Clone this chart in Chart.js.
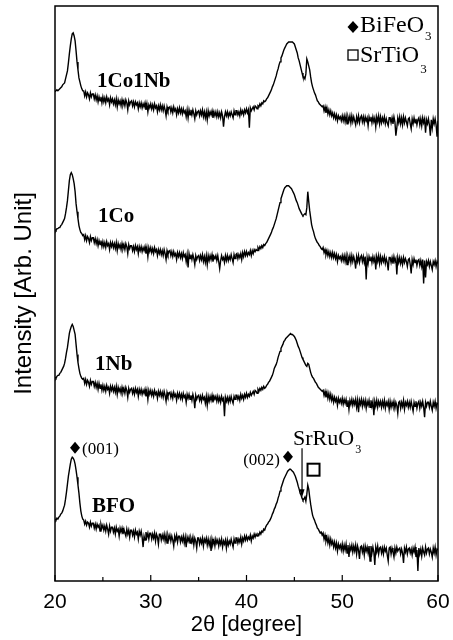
<!DOCTYPE html>
<html>
<head>
<meta charset="utf-8">
<script src="https://cdn.jsdelivr.net/npm/chart.js@4.4.0/dist/chart.umd.min.js"></script>
<style>
  html, body { margin: 0; padding: 0; background: #fff; }
  #wrap { width: 453px; height: 640px; }
</style>
</head>
<body>
<div id="wrap"><canvas id="xrd" width="453" height="640"></canvas></div>
<script>
// 2theta scan, 20-60 deg in 0.1 deg steps
const twoTheta = Array.from({ length: 401 }, (_, i) => Math.round((20 + i * 0.1) * 10) / 10);

const samples = ['1Co1Nb', '1Co', '1Nb', 'BFO'];
const shifts = [430, 290, 145, 0];

const co1nb1 = [
  60,60,62,61,62,63,64,65,67,68,
  69,73,77,81,89,98,106,113,118,119,
  116,111,101,90,82,74,70,66,63,61,
  61,56,60,55,59,57,53,59,55,58,
  58,53,57,52,56,50,55,51,55,49,
  55,50,54,49,55,51,53,47,54,50,
  53,48,52,47,53,45,52,48,51,46,
  52,47,51,46,52,49,42,51,47,50,
  51,46,50,45,50,47,49,43,49,45,
  49,44,48,45,49,42,48,40,47,44,
  48,43,47,42,48,44,46,40,46,42,
  47,42,46,41,46,42,36,45,41,44,
  45,40,44,39,45,41,43,37,43,39,
  44,39,43,38,43,39,41,35,42,34,
  42,37,42,37,42,38,33,41,37,40,
  41,36,41,37,42,35,40,34,40,32,
  41,36,40,37,41,34,40,36,40,35,
  40,35,39,34,40,36,25,35,40,36,
  40,35,39,36,40,37,34,41,37,41,
  41,37,40,36,42,38,41,37,42,39,
  43,39,42,24,44,41,43,45,42,46,
  45,43,46,45,48,46,49,48,51,50,
  51,53,54,56,58,60,62,65,67,70,
  73,76,80,83,87,90,94,96,99,102,
  104,106,108,109,110,110,110,110,110,109,
  108,105,102,99,94,91,87,83,79,75,
  75,73,78,93,90,86,82,75,69,65,
  62,59,57,54,51,50,48,47,46,45,
  46,41,45,39,44,38,42,37,41,36,
  39,34,38,33,37,31,36,33,35,31,
  36,31,36,30,36,28,35,31,36,29,
  36,30,35,31,27,35,30,36,29,34,
  36,30,35,29,35,31,34,26,35,31,
  35,29,35,30,34,25,35,30,36,28,
  35,29,34,30,35,28,33,29,26,34,
  34,29,34,28,35,30,16,24,34,29,
  35,28,34,27,35,29,34,30,26,33,
  34,28,23,33,28,34,29,33,27,32,
  34,27,33,26,34,29,33,19,32,28,
  33,27,16,32,24,33,28,33,27,15,
  31
];

const co1 = [
  62,61,63,63,64,64,66,67,69,71,
  73,78,84,91,101,111,117,119,117,113,
  108,100,88,80,73,66,62,59,58,56,
  57,52,56,51,55,53,49,55,51,54,
  54,49,53,48,52,46,51,47,51,45,
  50,45,49,44,50,46,48,42,49,45,
  49,44,48,43,49,41,48,44,47,42,
  48,43,47,42,48,45,38,47,43,46,
  46,41,45,40,46,42,45,38,45,41,
  45,40,44,41,45,38,44,35,44,40,
  44,39,43,38,44,40,42,36,42,38,
  42,37,41,36,42,38,32,41,37,40,
  41,36,40,35,40,36,38,32,39,35,
  39,34,38,33,39,35,37,30,37,24,
  38,33,37,32,37,33,27,36,32,35,
  36,31,36,32,37,30,35,29,36,27,
  36,31,36,32,37,30,35,33,36,31,
  36,30,23,31,36,32,34,29,36,31,
  36,31,35,32,37,33,29,37,33,37,
  38,33,37,34,38,32,39,35,40,36,
  40,36,39,37,41,36,41,38,42,40,
  42,41,44,42,45,43,46,44,47,46,
  48,49,51,53,55,57,59,62,64,67,
  70,73,77,81,85,89,93,96,99,102,
  104,105,106,106,106,105,104,103,101,99,
  97,94,91,89,86,83,81,79,77,76,
  77,78,77,84,100,90,81,74,67,63,
  60,56,53,51,49,48,46,45,43,42,
  44,39,42,37,41,36,40,35,39,34,
  39,34,38,33,37,30,36,33,35,31,
  36,31,36,30,36,27,35,31,36,29,
  36,30,35,31,23,35,30,36,29,34,
  36,30,35,29,35,12,34,28,35,31,
  35,29,35,30,34,22,35,30,36,28,
  35,29,34,30,35,28,33,29,21,34,
  34,29,34,28,35,30,33,17,34,29,
  34,28,33,27,34,29,33,30,25,32,
  33,27,18,32,27,33,29,32,26,31,
  32,26,31,25,32,8,31,14,30,27,
  31,25,30,26,22,30,27,31,25,30,
  28
];

const nb1 = [
  59,58,60,61,61,63,64,66,68,70,
  73,78,84,89,96,103,107,110,112,110,
  106,102,92,82,74,68,63,60,58,57,
  58,53,57,52,56,54,50,56,52,55,
  55,50,54,49,53,47,53,48,52,46,
  51,46,50,45,51,47,49,43,50,46,
  50,45,49,44,50,42,49,45,48,43,
  49,44,48,43,49,46,39,48,44,47,
  48,43,47,42,48,44,47,40,47,43,
  47,42,46,43,47,40,46,37,46,42,
  46,41,45,40,46,42,44,38,45,41,
  45,40,44,39,45,41,35,44,40,43,
  44,39,43,38,44,40,42,36,43,39,
  43,38,42,37,43,39,41,34,42,38,
  42,37,41,36,42,38,28,41,37,40,
  41,36,40,35,41,37,39,33,40,31,
  40,35,40,36,41,34,40,37,40,35,
  40,35,39,34,40,36,38,20,39,35,
  39,34,39,35,40,36,33,40,37,41,
  41,37,40,36,42,38,41,37,42,39,
  43,39,42,40,44,41,43,45,42,46,
  45,43,47,45,48,46,49,47,50,48,
  49,51,52,54,55,57,59,61,64,68,
  70,72,75,79,82,85,88,90,92,95,
  96,98,99,100,101,102,103,102,102,101,
  100,98,96,93,90,88,85,82,79,77,
  75,73,71,70,73,72,68,64,61,59,
  58,56,54,53,51,49,48,47,46,45,
  46,41,45,39,44,38,43,37,42,36,
  40,34,39,35,38,31,38,34,37,33,
  38,32,37,33,37,30,36,27,36,32,
  37,31,36,32,37,29,36,24,36,32,
  37,30,36,31,36,28,35,31,36,29,
  36,30,35,21,35,30,36,29,35,31,
  35,29,35,30,36,28,34,31,35,27,
  35,29,34,30,35,28,34,31,23,34,
  35,28,34,30,36,27,34,31,35,29,
  34,29,35,30,25,34,30,35,28,33,
  35,28,34,30,35,29,19,34,30,34,
  34,29,35,30,26,34,30,35,28,33,
  32
];

const bfo = [
  62,61,63,62,64,65,67,68,70,73,
  76,82,89,97,105,111,117,122,124,123,
  121,117,111,104,96,88,78,70,65,62,
  61,57,60,56,59,58,54,59,55,58,
  58,53,57,52,57,54,56,50,57,53,
  56,51,55,50,56,52,47,55,50,54,
  54,49,53,47,54,50,52,45,53,49,
  53,47,52,48,45,52,47,51,44,51,
  51,46,50,44,51,47,49,42,50,46,
  50,44,34,45,41,49,44,48,42,48,
  48,42,47,43,48,40,47,44,37,47,
  47,41,46,42,47,40,46,38,46,42,
  46,40,45,41,35,45,41,46,39,45,
  45,39,44,40,45,38,44,34,44,40,
  44,38,43,39,44,36,43,40,33,43,
  43,37,42,38,43,35,42,39,43,36,
  42,36,41,30,42,37,41,35,42,38,
  41,35,41,37,42,34,40,37,41,33,
  41,36,40,37,42,38,34,42,38,43,
  43,38,42,39,44,37,43,40,45,41,
  45,41,44,42,46,40,45,43,47,44,
  47,45,47,46,49,47,50,49,52,51,
  54,56,57,59,60,62,64,67,69,72,
  74,77,79,83,86,90,93,96,99,102,
  104,106,108,110,111,112,112,111,110,109,
  107,105,102,99,95,92,88,86,83,81,
  82,84,80,87,96,92,84,77,71,66,
  63,61,58,56,53,52,50,48,49,46,
  48,42,46,40,44,38,43,36,42,37,
  40,34,39,33,38,30,37,33,36,31,
  37,30,36,31,37,28,36,24,35,31,
  36,29,35,30,36,27,35,31,22,34,
  35,29,34,26,35,30,34,28,35,20,
  35,28,34,29,16,34,29,35,27,33,
  34,28,33,27,34,30,33,26,20,33,
  34,27,33,29,24,33,28,34,30,32,
  33,27,32,28,18,33,29,34,27,32,
  33,28,32,26,33,29,34,24,31,10,
  33,27,32,25,33,29,26,34,28,32,
  33,27,32,29,24,33,28,34,26,32,
  31
];

const series = [co1nb1, co1, nb1, bfo];
const xTicks = [20, 30, 40, 50, 60];

const serif = '"Liberation Serif", "Times New Roman", serif';
const sans = '"Liberation Sans", Arial, sans-serif';

function diamond(ctx, cx, cy, w, h) {
  ctx.beginPath();
  ctx.moveTo(cx, cy - h / 2);
  ctx.lineTo(cx + w / 2, cy);
  ctx.lineTo(cx, cy + h / 2);
  ctx.lineTo(cx - w / 2, cy);
  ctx.closePath();
  ctx.fill();
}

function chem(ctx, text, sub, x, y, size, drop) {
  ctx.font = size + 'px ' + serif;
  ctx.textAlign = 'left';
  ctx.textBaseline = 'alphabetic';
  ctx.fillText(text, x, y);
  const w = ctx.measureText(text).width;
  ctx.font = Math.round(size * 0.55) + 'px ' + serif;
  ctx.fillText(sub, x + w + 1, y + drop);
}

const overlay = {
  id: 'overlay',
  afterDraw(chart) {
    const { ctx, chartArea: a, scales: { x, y } } = chart;
    const px = v => x.getPixelForValue(v);
    const py = v => y.getPixelForValue(v);
    ctx.save();
    ctx.strokeStyle = '#000';
    ctx.fillStyle = '#000';

    // frame + inward ticks
    ctx.lineWidth = 1.5;
    ctx.strokeRect(a.left, a.top, a.right - a.left, a.bottom - a.top);
    ctx.lineWidth = 1.2;
    for (let t = 20; t <= 60; t += 5) {
      const len = t % 10 === 0 ? 6 : 4;
      ctx.beginPath();
      ctx.moveTo(px(t), a.bottom);
      ctx.lineTo(px(t), a.bottom - len);
      ctx.stroke();
    }

    // sample names
    const namePos = [[24.39, 500], [24.49, 365], [24.18, 217], [23.86, 75]];
    ctx.font = 'bold 21px ' + serif;
    ctx.textAlign = 'left';
    ctx.textBaseline = 'middle';
    samples.forEach((s, k) => ctx.fillText(s, px(namePos[k][0]), py(namePos[k][1])));

    // legend
    diamond(ctx, a.right - 85, a.top + 21, 11, 12);
    chem(ctx, 'BiFeO', '3', a.right - 78, a.top + 26, 24, 8);
    ctx.lineWidth = 1.3;
    ctx.strokeRect(a.right - 90, a.top + 44, 10, 10);
    chem(ctx, 'SrTiO', '3', a.right - 78, a.top + 56, 24, 11);

    // peak labels on BFO
    diamond(ctx, px(22.09), py(133.5), 10, 12);
    ctx.font = '17px ' + serif;
    ctx.textBaseline = 'middle';
    ctx.textAlign = 'left';
    ctx.fillText('(001)', px(22.82), py(132));
    ctx.textAlign = 'right';
    ctx.fillText('(002)', px(43.5), py(121));
    diamond(ctx, px(44.33), py(124.5), 10, 12);
    chem(ctx, 'SrRuO', '3', px(44.86), py(136), 22, 8);

    // arrow to SrRuO3 shoulder
    const ax = px(45.8);
    ctx.lineWidth = 1.2;
    ctx.beginPath();
    ctx.moveTo(ax, py(133));
    ctx.lineTo(ax, py(90));
    ctx.stroke();
    ctx.beginPath();
    ctx.moveTo(ax, py(84));
    ctx.lineTo(ax - 2.5, py(92));
    ctx.lineTo(ax + 2.5, py(92));
    ctx.closePath();
    ctx.fill();

    // SrTiO3 substrate marker
    ctx.lineWidth = 2;
    ctx.strokeRect(px(47.0) - 6, py(111.5) - 6, 12, 12);
    ctx.restore();
  }
};

new Chart(document.getElementById('xrd'), {
  type: 'line',
  data: {
    datasets: series.map((s, k) => ({
      label: samples[k],
      data: s.map((v, i) => ({ x: twoTheta[i], y: v + shifts[k] })),
      borderColor: '#000',
      borderWidth: 1.4,
      pointRadius: 0,
      tension: 0
    }))
  },
  options: {
    responsive: false,
    animation: false,
    layout: { padding: { top: 6, right: 15, left: 0, bottom: 0 } },
    plugins: { legend: { display: false }, tooltip: { enabled: false } },
    scales: {
      x: {
        type: 'linear',
        min: 20,
        max: 60,
        afterBuildTicks: s => { s.ticks = xTicks.map(v => ({ value: v })); },
        afterFit: s => { s.height = 59; },
        grid: { display: false },
        border: { display: false },
        ticks: { color: '#000', font: { family: sans, size: 21 }, padding: 1, maxRotation: 0 },
        title: { display: true, text: '2θ [degree]', color: '#000', font: { family: sans, size: 22 }, padding: { top: 0, bottom: 2 } }
      },
      y: {
        min: 0,
        max: 576,
        afterFit: s => { s.width = 55; },
        grid: { display: false },
        border: { display: false },
        ticks: { display: false },
        title: { display: true, text: 'Intensity [Arb. Unit]', color: '#000', font: { family: sans, size: 24 }, padding: { top: 10, bottom: 0 } }
      }
    }
  },
  plugins: [overlay]
});
</script>
</body>
</html>
